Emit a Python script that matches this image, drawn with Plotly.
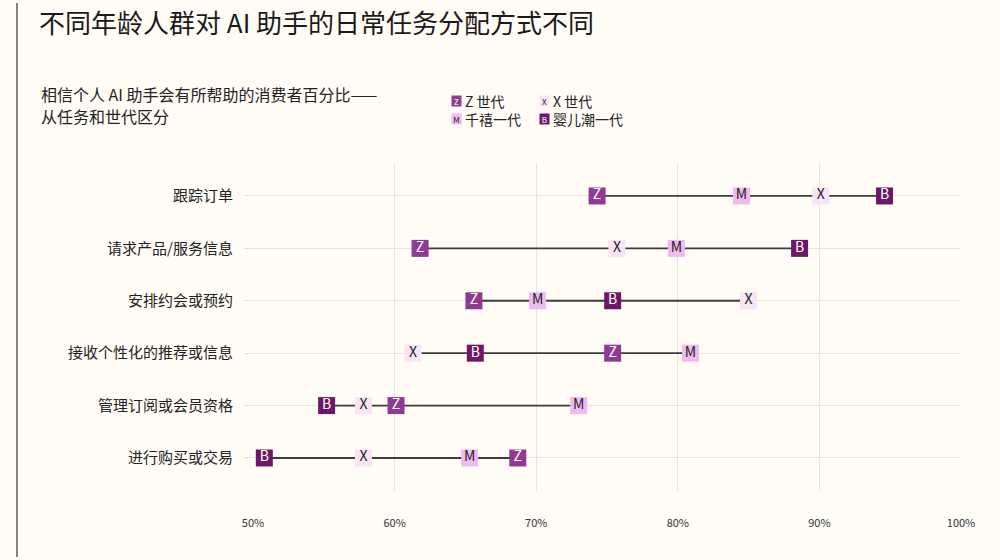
import plotly.graph_objects as go

categories = ["跟踪订单", "请求产品/服务信息", "安排约会或预约", "接收个性化的推荐或信息", "管理订阅或会员资格", "进行购买或交易"]
gen_z = [74.3, 61.8, 65.6, 75.4, 60.1, 68.7]
millennials = [84.5, 79.9, 70.1, 80.9, 73.0, 65.3]
gen_x = [90.1, 75.7, 85.0, 61.3, 57.8, 57.8]
boomers = [94.6, 88.6, 75.4, 65.7, 55.2, 50.8]
x_ticks = [50, 60, 70, 80, 90, 100]
x_tick_labels = ["50%", "60%", "70%", "80%", "90%", "100%"]
subtitle_lines = ["相信个人 AI 助手会有所帮助的消费者百分比——", "从任务和世代区分"]

series = [
    ("Z 世代", "Z", gen_z, "#8f3b94", "#ffffff"),
    ("X 世代", "X", gen_x, "#f8e3f7", "#222222"),
    ("千禧一代", "M", millennials, "#f2b9f1", "#222222"),
    ("婴儿潮一代", "B", boomers, "#6d1766", "#ffffff"),
]

FONT = "Noto Sans CJK SC, Noto Sans, sans-serif"
BG = "#fffcf6"

fig = go.Figure()

# connecting lines (min to max per row)
lx, ly = [], []
for i, c in enumerate(categories):
    vals = [gen_z[i], millennials[i], gen_x[i], boomers[i]]
    lx += [min(vals), max(vals), None]
    ly += [c, c, None]
fig.add_trace(go.Scatter(x=lx, y=ly, mode="lines", line=dict(color="#3c3c3c", width=1.8),
                         hoverinfo="skip", showlegend=False))

for name, letter, vals, color, tcolor in series:
    fig.add_trace(go.Scatter(
        x=vals, y=categories, mode="markers+text", name=name,
        marker=dict(symbol="square", size=17, color=color, line=dict(width=0)),
        text=[letter] * len(vals), textposition="middle center",
        textfont=dict(family=FONT, size=14, color=tcolor),
        showlegend=False,
    ))

# plot area in screen pixels
L = 253.0
W = 708.0
B = 491.0
H = 327.0
def px(x):
    return (x - L) / W
def py(y):
    return (B - y) / H

legend_pos = [(456, 101), (544, 101), (456, 118.5), (544, 118.5)]
for (name, letter, vals, color, tcolor), (lxp, lyp) in zip(series, legend_pos):
    fig.add_annotation(xref="paper", yref="paper", x=px(lxp), y=py(lyp), text=letter,
                       showarrow=False, bgcolor=color, width=9, height=10, borderpad=0,
                       font=dict(family=FONT, size=8, color=tcolor), xanchor="center", yanchor="middle")
    fig.add_annotation(xref="paper", yref="paper", x=px(lxp + 7), y=py(lyp), text=name,
                       showarrow=False, font=dict(family=FONT, size=14, color="#222222"),
                       xanchor="left", yanchor="middle")

# subtitle (two lines)
for line, yc in zip(subtitle_lines, [94, 115.5]):
    fig.add_annotation(xref="paper", yref="paper", x=px(39), y=py(yc), xanchor="left", yanchor="middle",
                       align="left", showarrow=False, text=line,
                       font=dict(family=FONT, size=16, color="#222222"))

# left border line
fig.add_shape(type="line", xref="paper", yref="paper", x0=px(17), x1=px(17), y0=py(3), y1=py(557),
              line=dict(color="#333333", width=1.2))

fig.update_layout(
    width=1000, height=560,
    margin=dict(l=int(L), r=int(1000 - (L + W)), t=164, b=int(560 - B)),
    paper_bgcolor=BG, plot_bgcolor=BG,
    title=dict(text="不同年龄人群对 AI 助手的日常任务分配方式不同", x=39 / 1000, xanchor="left",
               xref="container", y=1 - 24 / 560, yref="container", yanchor="middle",
               font=dict(family=FONT, size=26, color="#1a1a1a")),
    font=dict(family=FONT, color="#222222"),
    xaxis=dict(range=[50, 100], tickvals=x_ticks, ticktext=x_tick_labels, showgrid=True,
               gridcolor="#e8e4dc", gridwidth=1, zeroline=False, showline=False,
               ticks="", ticklabelstandoff=24, tickfont=dict(family=FONT, size=11, color="#333333")),
    yaxis=dict(type="category", categoryorder="array", categoryarray=categories,
               range=[5.63, -0.61], showgrid=True, gridcolor="#e8e4dc", gridwidth=1,
               zeroline=False, showline=False, ticks="outside", ticklen=8, tickcolor="#e3dfd7",
               tickfont=dict(family=FONT, size=15, color="#222222"), ticklabelstandoff=8),
)

fig.write_html("out.html", config={"displayModeBar": False},
               post_script="document.body.style.margin='0';document.body.style.background='#fffcf6';")
